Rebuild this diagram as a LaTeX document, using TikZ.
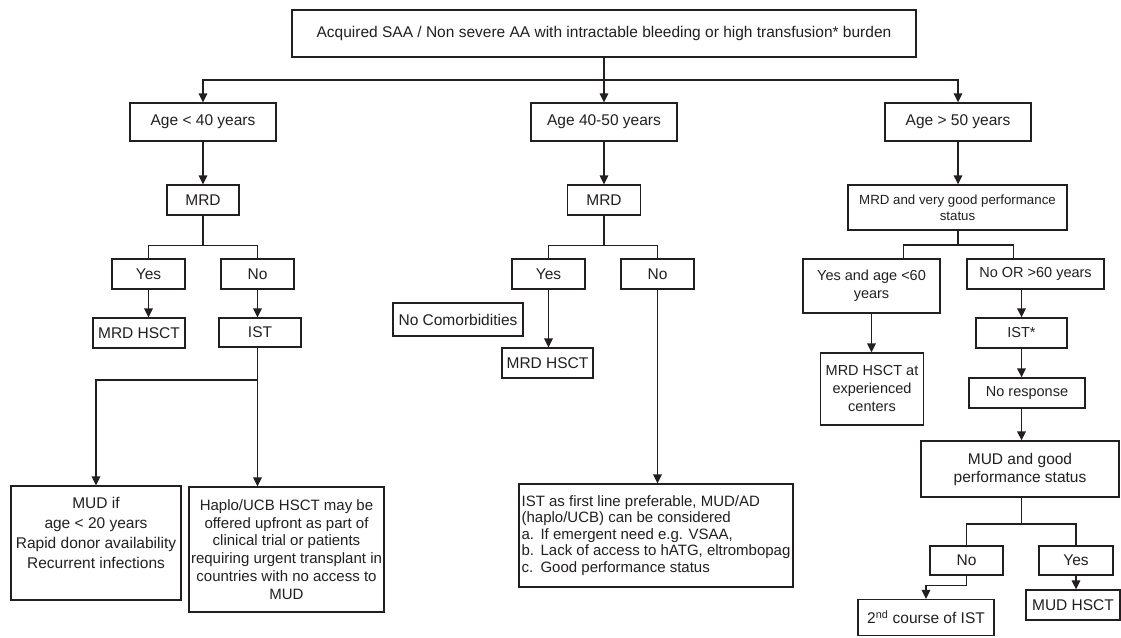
\documentclass[tikz,border=0pt]{standalone}
\usepackage{fontspec}
\setmainfont{Liberation Sans}
\definecolor{Ink}{HTML}{231F20}
\usetikzlibrary{arrows.meta, positioning, calc}

\begin{document}
\begin{tikzpicture}[x=1pt, y=-1pt, >={Triangle[length=9pt, width=8.5pt]},
  box/.style={draw=Ink, line width=1.3pt, inner sep=2pt, align=center, text=Ink,
    font=\fontsize{15.5}{18}\selectfont},
  sz/.style 2 args={minimum width=#1pt, minimum height=#2pt},
  flow/.style={draw=Ink, line width=1.5pt}]
  \useasboundingbox (0,0) rectangle (1121,637);
  \fill[white] (0,0) rectangle (1121,637);

  % root and age groups
  \node[box, sz={624}{47}] (top) at (604,33.5)
    {Acquired SAA / Non severe AA with intractable bleeding or high transfusion* burden};
  \node[box, sz={146}{38}] (age1) at (203,122) {Age < 40 years};
  \node[box, sz={146}{38}] (age2) at (604,122) {Age 40-50 years};
  \node[box, sz={146}{38}] (age3) at (958,122) {Age > 50 years};

  % under 40
  \node[box, sz={72}{30}] (mrd1) at (203,200) {MRD};
  \node[box, sz={73}{30}] (yes1) at (148.5,274) {Yes};
  \node[box, sz={73}{30}] (no1) at (257.5,274) {No};
  \node[box, sz={92}{30}] (hsct1) at (139,333) {MRD HSCT};
  \node[box, sz={82}{29}] (ist1) at (260,332.5) {IST};
  \node[box, sz={170}{114}, font=\fontsize{15.5}{20}\selectfont] (mud1) at (96,543)
    {MUD if\\age < 20 years\\Rapid donor availability\\Recurrent infections\\[0pt]\mbox{}};
  \node[box, sz={191}{125}, font=\fontsize{15}{17.8}\selectfont] (haplo) at (286.5,549.5)
    {Haplo/UCB HSCT may be\\offered upfront as part of\\clinical trial or patients\\requiring urgent transplant in\\countries with no access to\\MUD};

  % 40 to 50
  \node[box, sz={73}{30}] (mrd2) at (604,200) {MRD};
  \node[box, sz={73}{30}] (yes2) at (548.5,274) {Yes};
  \node[box, sz={73}{30}] (no2) at (657.5,274) {No};
  \node[box, sz={130}{33}] (nocom) at (458,319.5) {No Comorbidities};
  \node[box, sz={91}{30}] (hsct2) at (547.5,363) {MRD HSCT};
  \node[box, sz={274}{103}, align=left,
    font=\fontsize{15}{16.5}\selectfont] (ist2) at (656,535.5)
    {IST as first line preferable, MUD/AD\\(haplo/UCB) can be considered\\
     \makebox[19pt][l]{a.}If emergent need e.g. VSAA,\\
     \makebox[19pt][l]{b.}Lack of access to hATG, eltrombopag\\
     \makebox[19pt][l]{c.}Good performance status};

  % over 50
  \node[box, sz={219}{45}, font=\fontsize{13.3}{16}\selectfont] (mrd3) at (957.5,207.5)
    {MRD and very good performance\\status};
  \node[box, sz={137}{54}, font=\fontsize{14.5}{18}\selectfont] (yes3) at (871.5,286)
    {Yes and age <60\\years};
  \node[box, sz={137}{30}, font=\fontsize{14.5}{18}\selectfont] (no3) at (1035.5,274)
    {No OR >60 years};
  \node[box, sz={103}{72}, font=\fontsize{14.5}{18}\selectfont] (hsct3) at (872,389)
    {MRD HSCT at\\experienced\\centers};
  \node[box, sz={91}{30}, font=\fontsize{14.5}{18}\selectfont] (ist3) at (1021.5,333) {IST*};
  \node[box, sz={116}{30}, font=\fontsize{14.5}{18}\selectfont] (noresp) at (1027,393) {No response};
  \node[box, sz={198}{56}] (mud2) at (1020,469) {MUD and good\\performance status};
  \node[box, sz={73}{29}] (no4) at (966.5,560.5) {No};
  \node[box, sz={74}{29}] (yes4) at (1076,560.5) {Yes};
  \node[box, sz={136}{36}] (second) at (926,617.5) {2\textsuperscript{nd} course of IST};
  \node[box, sz={94}{30}] (hsct4) at (1073,605) {MUD HSCT};

  % connectors
  \coordinate (hub) at (604,80);
  \draw[flow, ->] (top.south) -- (age2.north);
  \draw[flow, ->] (hub) -| (age1.north);
  \draw[flow, ->] (hub) -| (age3.north);

  \draw[flow, ->] (age1) -- (mrd1);
  \draw[flow] (mrd1.south) -- ++(0,30) coordinate (s1) -| (yes1.north);
  \draw[flow] (s1) -| (no1.north);
  \draw[flow, ->] (yes1.south) -- (yes1.south |- hsct1.north);
  \draw[flow, ->] (no1.south) -- (no1.south |- ist1.north);
  \draw[flow] (no1.south |- ist1.south) -- (no1.south |- 0,380) coordinate (s2);
  \draw[flow, ->] (s2) -| (mud1.north);
  \draw[flow, ->] (s2) -- (s2 |- haplo.north);

  \draw[flow, ->] (age2) -- (mrd2);
  \draw[flow] (mrd2.south) -- ++(0,30) coordinate (s3) -| (yes2.north);
  \draw[flow] (s3) -| (no2.north);
  \draw[flow, ->] (yes2.south) -- (yes2.south |- hsct2.north);
  \draw[flow, ->] (no2.south) -- (no2.south |- ist2.north);

  \draw[flow, ->] (age3.south) -- (age3.south |- mrd3.north);
  \draw[flow] (age3.south |- mrd3.south) -- (958,245) coordinate (s4);
  \draw[flow] (s4) -| ([xshift=32pt]yes3.north);
  \draw[flow] (s4) -| ([xshift=-22pt]no3.north);
  \draw[flow, ->] (yes3.south) -- (yes3.south |- hsct3.north);
  \draw[flow, ->] (ist3.north |- no3.south) -- (ist3.north);
  \draw[flow, ->] (ist3.south) -- (ist3.south |- noresp.north);
  \draw[flow, ->] (ist3.south |- noresp.south) -- (ist3.south |- mud2.north);
  \draw[flow] (ist3.south |- mud2.south) -- (ist3.south |- 0,524) coordinate (s5);
  \draw[flow] (s5) -| (no4.north);
  \draw[flow] (s5) -| (yes4.north);
  \draw[flow, ->] (no4.south) -- ++(0,10) -| (second.north);
  \draw[flow, ->] (yes4.south) -- (yes4.south |- hsct4.north);
\end{tikzpicture}
\end{document}
